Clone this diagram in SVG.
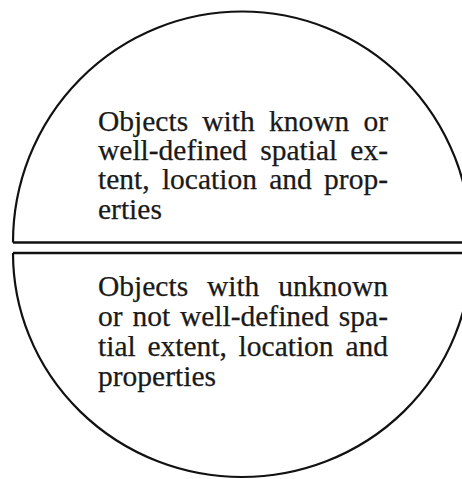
<svg xmlns="http://www.w3.org/2000/svg" width="462" height="479" viewBox="0 0 462 479">
<style>
.arc{fill:none;stroke:#111;stroke-width:2.2}
.sep{stroke:#111;stroke-width:2.4}
.t{font-family:"Liberation Serif","Times New Roman",serif;font-size:29.5px;fill:#1a1a1a;stroke:#1a1a1a;stroke-width:0.25}
</style>
<rect width="462" height="479" fill="#fff"/>
<g id="top-half">
<path class="arc" d="M13,242.5 A229,231 0 0 1 471,242.5"/>
<text class="t" y="130.5"><tspan x="98">Objects</tspan><tspan x="202.3">with</tspan><tspan x="268.9">known</tspan><tspan x="388" text-anchor="end">or</tspan></text>
<text class="t" y="159.5"><tspan x="98">well-defined</tspan><tspan x="260.2">spatial</tspan><tspan x="388" text-anchor="end">ex-</tspan></text>
<text class="t" y="189"><tspan x="98">tent,</tspan><tspan x="161.9">location</tspan><tspan x="269.2">and</tspan><tspan x="388" text-anchor="end">prop-</tspan></text>
<text class="t" x="98" y="218.5">erties</text>
</g>
<g id="bottom-half">
<path class="arc" d="M13,253 A229,224 0 0 0 471,253"/>
<text class="t" y="296"><tspan x="98">Objects</tspan><tspan x="206.9">with</tspan><tspan x="388" text-anchor="end">unknown</tspan></text>
<text class="t" y="326"><tspan x="98">or</tspan><tspan x="132.4">not</tspan><tspan x="179.9">well-defined</tspan><tspan x="388" text-anchor="end">spa-</tspan></text>
<text class="t" y="356"><tspan x="98">tial</tspan><tspan x="147.4">extent,</tspan><tspan x="238.6">location</tspan><tspan x="388" text-anchor="end">and</tspan></text>
<text class="t" x="98" y="386">properties</text>
</g>
<g id="connectors">
<line class="sep" x1="13" y1="242.5" x2="462" y2="242.5"/>
<line class="sep" x1="13" y1="253" x2="462" y2="253"/>
</g>
</svg>
